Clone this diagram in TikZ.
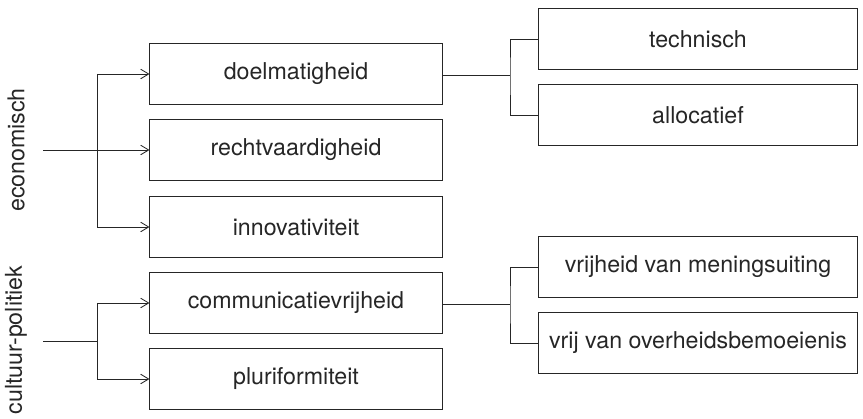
\documentclass[tikz,border=0pt]{standalone}
\usepackage{fontspec}
\setmainfont{TeX Gyre Heros}
\usetikzlibrary{arrows.meta}
\usetikzlibrary{positioning}
\usetikzlibrary{calc}
\tikzset{basic box/.style={draw=black!85,rectangle,line width=.7pt}}
\tikzset{crit box/.style={basic box,minimum width=7.3cm,minimum height=1.525cm}}
\tikzset{sub box/.style={basic box,minimum width=7.95cm,minimum height=1.525cm}}
\tikzset{edge/.style={draw=black!85,line width=.6pt}}
\tikzset{arrow/.style={edge,-{Straight Barb[length=2mm,width=2.4mm]}}}

\begin{document}
\begin{tikzpicture}
    [
      x=0.025cm, y=-0.025cm,
      every node/.style={text=black!85},
      font=\fontsize{16.5}{20}\selectfont,
    ]
    \useasboundingbox (0,0) rectangle (863,419);

    % groups
    \node [rotate=90] (econ label) at (16,150) {economisch};
    \node [rotate=90] (cult label) at (16,340) {cultuur-politiek};

    % criteria
    \foreach \y/\n/\t in {74/doel/doelmatigheid,150/recht/rechtvaardigheid,227/innov/innovativiteit,303/comm/communicatievrijheid,379/pluri/pluriformiteit}
      \node [crit box] (\n) at (296,\y) {\t};

    % sub criteria
    \foreach \y/\n/\t in {39/tech/technisch,115/alloc/allocatief,267/mening/vrijheid van meningsuiting,343/overheid/vrij van overheidsbemoeienis}
      \node [sub box] (\n) at (698,\y) {\t};

    % economisch
    \coordinate (econ in) at (43,150);
    \coordinate (econ split) at (97,150);
    \draw [arrow] (econ in) -- (recht.west);
    \draw [edge] (econ split |- doel) -- (econ split |- innov);
    \draw [arrow] (econ split |- doel) -- (doel.west);
    \draw [arrow] (econ split |- innov) -- (innov.west);

    % cultuur-politiek
    \coordinate (cult in) at (43,341);
    \coordinate (cult split) at (97,341);
    \draw [edge] (cult in) -- (cult split);
    \draw [edge] (cult split |- comm) -- (cult split |- pluri);
    \draw [arrow] (cult split |- comm) -- (comm.west);
    \draw [arrow] (cult split |- pluri) -- (pluri.west);

    % doelmatigheid
    \coordinate (doel split) at (510,75);
    \draw [edge] (doel.east |- doel split) -- (doel split);
    \draw [edge] (tech.west) -| (doel split) |- (alloc.west);

    % communicatievrijheid
    \coordinate (comm split) at (510,304);
    \draw [edge] (comm.east |- comm split) -- (comm split);
    \draw [edge] (mening.west) -| (comm split) |- (overheid.west);

  \end{tikzpicture}
\end{document}
